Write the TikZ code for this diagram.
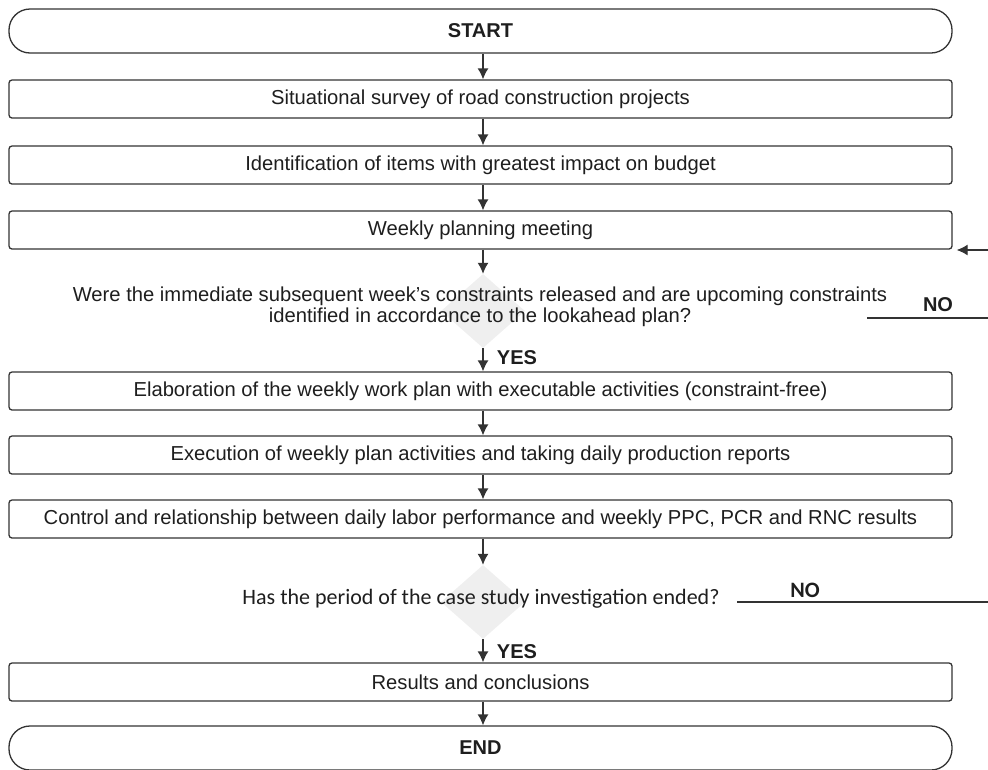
\documentclass[tikz,border=0pt]{standalone}
\usepackage{fontspec}
\setmainfont{Liberation Sans}
\newfontfamily\calfont{Carlito}
\usetikzlibrary{arrows.meta,shapes.geometric}

\definecolor{linegray}{HTML}{333333}
\definecolor{textgray}{HTML}{1E1E1E}
\definecolor{diagray}{HTML}{EFEFEF}

\tikzset{
  flowbox/.style={draw=linegray, line width=1.3pt, rounded corners=3pt,
    minimum width=943pt, minimum height=38pt, inner sep=0pt,
    text=textgray, font=\fontsize{20.2}{22}\selectfont},
  termbox/.style={flowbox, rounded corners=21pt, minimum height=44pt,
    font=\bfseries\fontsize{20}{22}\selectfont},
  decision/.style={diamond, fill=diagray, minimum width=84pt,
    minimum height=74pt, inner sep=0pt},
  arr/.style={draw=linegray, line width=1.3pt, -{Latex[length=11pt,width=11pt]}},
  noline/.style={draw=linegray, line width=1.3pt},
  answer/.style={text=textgray, inner sep=0pt, font=\bfseries\fontsize{20}{22}\selectfont}
}

\begin{document}
\begin{tikzpicture}[x=1pt,y=-1pt]
            \useasboundingbox (0,0) rectangle (988,769);

            % boxes
            \node[termbox] (start) at (480.5,31) {START};
            \node[flowbox] (survey) at (480.5,99) {Situational survey of road construction projects};
            \node[flowbox] (items) at (480.5,165) {Identification of items with greatest impact on budget};
            \node[flowbox] (meeting) at (480.5,230) {Weekly planning meeting};

            \node[decision] (dec1) at (483,311) {};
            \node[text=textgray, align=center, inner sep=0pt, font=\fontsize{20.2}{21}\selectfont] (q1) at (480,307)
                {Were the immediate subsequent week's constraints released and are upcoming constraints\\
                 identified in accordance to the lookahead plan?};

            \node[flowbox] (plan) at (480.5,391) {Elaboration of the weekly work plan with executable activities (constraint-free)};
            \node[flowbox] (exec) at (480.5,455) {Execution of weekly plan activities and taking daily production reports};
            \node[flowbox] (ctrl) at (480.5,519) {Control and relationship between daily labor performance and weekly PPC, PCR and RNC results};

            \node[decision] (dec2) at (483,602) {};
            \node[text=textgray, inner sep=0pt, font=\calfont\fontsize{22}{24}\selectfont] (q2) at (481,599)
                {Has the period of the case study investigation ended?};

            \node[flowbox] (results) at (480.5,682) {Results and conclusions};
            \node[termbox] (end) at (480.5,748) {END};

            % arrows
            \foreach \a/\b in {start/survey, survey/items, items/meeting, plan/exec, exec/ctrl, results/end}
                \draw[arr] (\a.south -| dec1) -- (\b.north -| dec1);
            \draw[arr] (meeting.south -| dec1) -- (dec1.north);
            \draw[arr] (dec1.south) -- (plan.north -| dec1);
            \draw[arr] (ctrl.south -| dec1) -- (dec2.north);
            \draw[arr] (dec2.south) -- (results.north -| dec1);

            \node[answer] (yes1) at (517,358) {YES};
            \node[answer] (yes2) at (517,652) {YES};

            % NO branches
            \node[answer] (no1) at (938,305) {NO};
            \coordinate (no1a) at (867,318);
            \coordinate (no1b) at (988,318);
            \draw[noline] (no1a) -- (no1b);

            \node[answer, font=\calfont\bfseries\fontsize{22}{24}\selectfont] (no2) at (805,590) {NO};
            \coordinate (no2a) at (737,602);
            \coordinate (no2b) at (988,602);
            \draw[noline] (no2a) -- (no2b);

            \coordinate (fb) at (988,250);
            \coordinate (fbend) at ([xshift=4pt]meeting.south east);
            \draw[arr] (fb) -- (fb -| fbend);
        \end{tikzpicture}
\end{document}
